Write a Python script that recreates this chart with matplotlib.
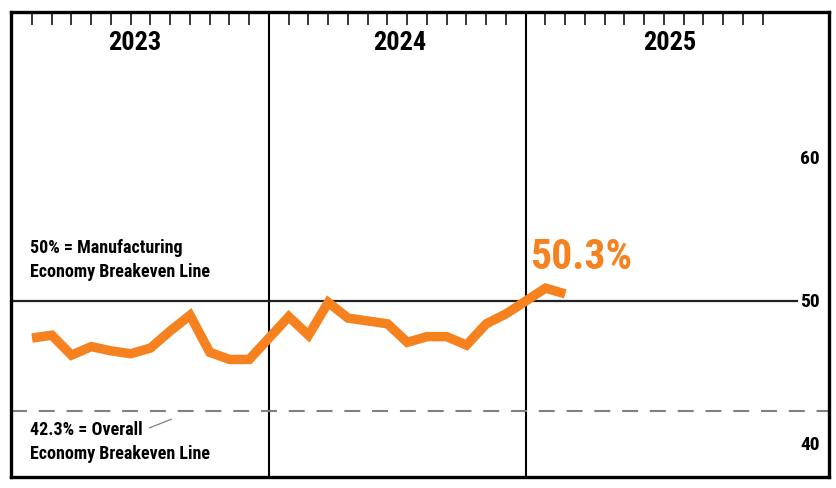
import numpy as np
import matplotlib
matplotlib.use("Agg")
import matplotlib.pyplot as plt

plt.rcParams['font.family'] = ['Roboto Condensed', 'DejaVu Sans']
plt.rcParams['lines.scale_dashes'] = False

# Data: monthly index values, Jan 2023 - Feb 2025
years = ['2023', '2024', '2025']
values_2023 = [47.4, 47.6, 46.2, 46.8, 46.5, 46.3, 46.7, 47.9, 49.0, 46.4, 45.9, 45.9]
values_2024 = [48.9, 47.6, 49.9, 48.8, 48.6, 48.4, 47.1, 47.5, 47.5, 46.9, 48.4, 49.1]
values_2025 = [50.9, 50.5]
latest_label = '50.3%'
y_ticks = [40, 50, 60]
manufacturing_line = 50.0
overall_line = 42.3

ORANGE = '#F5821F'

# each year takes 13 slots: 12 months + divider
series = [values_2023, values_2024, values_2025]
xs, ys = [], []
for yi, vals in enumerate(series):
    for m, v in enumerate(vals):
        xs.append(13 * yi + m + 1)
        ys.append(v)

W, H = 837, 489
fig = plt.figure(figsize=(W / 100, H / 100), dpi=100)
left, right, top, bottom = 11.5, 829, 12.5, 478
ax = fig.add_axes([left / W, 1 - bottom / H, (right - left) / W, (bottom - top) / H])

px = 19.75  # pixels per month slot
ax.set_xlim(-(12.25 - left) / px, (right - 12.25) / px)
ax.set_ylim(50 - (bottom - 302) / 14.25, 50 + (302 - top) / 14.25)

for s in ax.spines.values():
    s.set_linewidth(2.4)
    s.set_color('black')

# month ticks along the top
month_ticks = [13 * yi + m + 1 for yi in range(len(years)) for m in range(12)]
ax.set_xticks(month_ticks)
ax.xaxis.tick_top()
ax.tick_params(axis='x', direction='in', length=9, width=1.1, labeltop=False, labelbottom=False)
ax.set_yticks([])

# year dividers
for yi in range(1, len(years)):
    ax.axvline(13 * yi, color='black', lw=1.5, zorder=2)

# year labels
year_label_x = [6.2, 19.6, 33.3]
for xl, yr in zip(year_label_x, years):
    ax.text(xl, 68.2, yr, ha='center', va='center', fontsize=19, fontweight='bold')

# breakeven lines
x_end_50 = (797 - 12.25) / px
ax.plot([ax.get_xlim()[0], x_end_50], [manufacturing_line] * 2, color='#222222', lw=1.6, zorder=2)
ax.axhline(overall_line, color='#808080', lw=1.5, linestyle=(0, (11.5, 8.5)), zorder=2)

# y tick labels inside the right frame
for t in y_ticks:
    ax.text((820 - 12.25) / px, t, str(t), ha='right', va='center', fontsize=14, fontweight='bold')

# annotations
ax.text(0.9, 52.95, '50% = Manufacturing\nEconomy Breakeven Line', ha='left', va='center',
        fontsize=13, fontweight='bold', linespacing=1.4)
ax.text(0.9, 40.2, '42.3% = Overall\nEconomy Breakeven Line', ha='left', va='center',
        fontsize=13, fontweight='bold', linespacing=1.45)
ax.plot([6.95, 8.05], [41.1, 41.7], color='#808080', lw=0.9)

# main series
ax.plot(xs, ys, color=ORANGE, lw=6.8, solid_capstyle='butt', solid_joinstyle='miter', zorder=3)
ax.text(26.2, 53.1, latest_label, ha='left', va='center', color=ORANGE, fontsize=30, fontweight='bold')

fig.savefig('out.png', dpi=100)
